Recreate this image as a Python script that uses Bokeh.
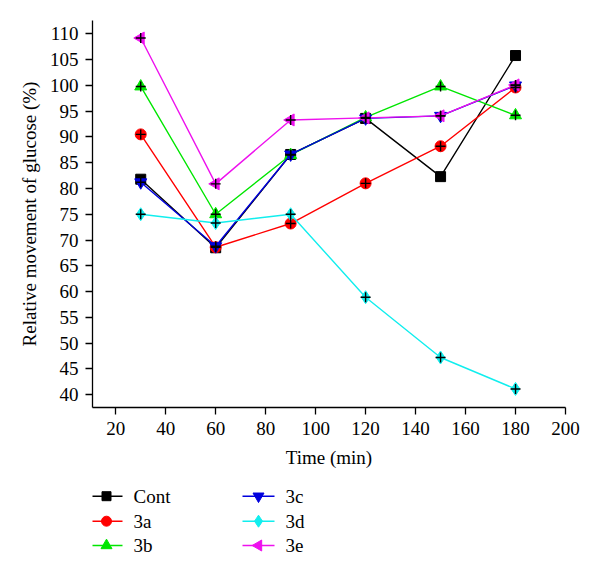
import numpy as np
from bokeh.plotting import figure
from bokeh.models import FixedTicker
from bokeh.layouts import column
from bokeh.core.properties import value
from bokeh.embed import file_html
from bokeh.resources import INLINE

time_min = [30, 60, 90, 120, 150, 180]
cont = [81.8, 68.5, 86.6, 93.6, 82.3, 105.8]
s3a = [90.5, 68.6, 73.2, 81.0, 88.2, 99.6]
s3b = [99.8, 75.0, 86.5, 93.8, 99.8, 94.2]
s3c = [81.2, 68.8, 86.6, 93.6, 94.1, 100.0]
s3d = [75.0, 73.3, 75.0, 58.9, 47.2, 41.1]
s3e = [109.2, 80.9, 93.3, 93.7, 94.1, 100.1]
series_names = ["Cont", "3a", "3b", "3c", "3d", "3e"]
x_ticks = [20, 40, 60, 80, 100, 120, 140, 160, 180, 200]
y_ticks = [40, 45, 50, 55, 60, 65, 70, 75, 80, 85, 90, 95, 100, 105, 110]

FONT = "Liberation Serif"
W = 584
MAIN_H = 472
LEG_H = 90
LEFT = 92
RIGHT = 19

p = figure(width=W, height=MAIN_H, output_backend="svg", toolbar_location=None,
           x_range=(10.7, 200), y_range=(37.5, 112.6),
           min_border_left=LEFT, min_border_right=RIGHT, min_border_top=20,
           min_border_bottom=MAIN_H - 407)
p.grid.visible = False
p.outline_line_color = None
p.background_fill_color = "white"

for ax in (p.xaxis[0], p.yaxis[0]):
    ax.axis_line_color = "black"
    ax.axis_line_width = 1.3
    ax.major_tick_line_color = "black"
    ax.major_tick_line_width = 1.3
    ax.major_tick_in = 0
    ax.major_tick_out = 7
    ax.minor_tick_line_color = None
    ax.major_label_text_font = FONT
    ax.major_label_text_font_size = "19px"
    ax.major_label_text_color = "black"
    ax.axis_label_text_font = FONT
    ax.axis_label_text_font_size = "19px"
    ax.axis_label_text_font_style = "normal"
    ax.axis_label_text_color = "black"

p.xaxis.ticker = FixedTicker(ticks=x_ticks)
p.yaxis.ticker = FixedTicker(ticks=y_ticks)
p.xaxis.axis_label = "Time (min)"
p.yaxis.axis_label = "Relative movement of glucose (%)"
p.xaxis.major_label_standoff = 7
p.yaxis.major_label_standoff = 7
p.xaxis.axis_label_standoff = 9
p.yaxis.axis_label_standoff = 7

colors = ["#000000", "#ff0000", "#00e600", "#0000dd", "#11eeee", "#ee11ee"]
markers = ["square", "circle", "triangle", "inverted_triangle", "diamond", "triangle"]
angles = [0.0, 0.0, 0.0, 0.0, 0.0, np.pi / 2]
sizes = [10, 11, 12, 12, 13, 12]
all_values = [cont, s3a, s3b, s3c, s3d, s3e]

for ys, col, mk, ang, sz in zip(all_values, colors, markers, angles, sizes):
    p.line(time_min, ys, line_color=col, line_width=1.4)
    p.scatter(time_min, ys, marker=mk, angle=ang, size=sz,
              fill_color=col, line_color=col, line_width=1)

for ys in all_values[1:]:
    p.scatter(time_min, ys, marker="cross", size=10, line_color="black",
              line_width=1.4)

# legend panel: its frame is aligned with the main frame, so its x range is
# set to page pixels (frame spans LEFT .. W-RIGHT)
lg = figure(width=W, height=LEG_H, output_backend="svg", toolbar_location=None,
            x_range=(LEFT, W - RIGHT), y_range=(0, LEG_H),
            min_border_left=LEFT, min_border_right=RIGHT,
            min_border_top=0, min_border_bottom=0)
lg.axis.visible = False
lg.grid.visible = False
lg.outline_line_color = None

col_x = [90, 242]
row_y = [23.7, 48.7, 73.0]
leg_sizes = [9, 10, 11, 11, 12, 11]
for i, name in enumerate(series_names):
    c, r = divmod(i, 3)
    x0 = col_x[c]
    y = LEG_H - row_y[r]
    lg.line([x0, x0 + 32], [y, y], line_color=colors[i], line_width=1.4)
    lg.scatter([x0 + 16], [y], marker=markers[i], angle=angles[i],
               size=leg_sizes[i], fill_color=colors[i], line_color=colors[i])
    lg.text([x0 + 43], [y], text=[name], text_font=value(FONT),
            text_font_size="19px", text_baseline="middle", text_color="black")

layout = column(p, lg, spacing=0)
open("out.html", "w").write(file_html(layout, INLINE))
